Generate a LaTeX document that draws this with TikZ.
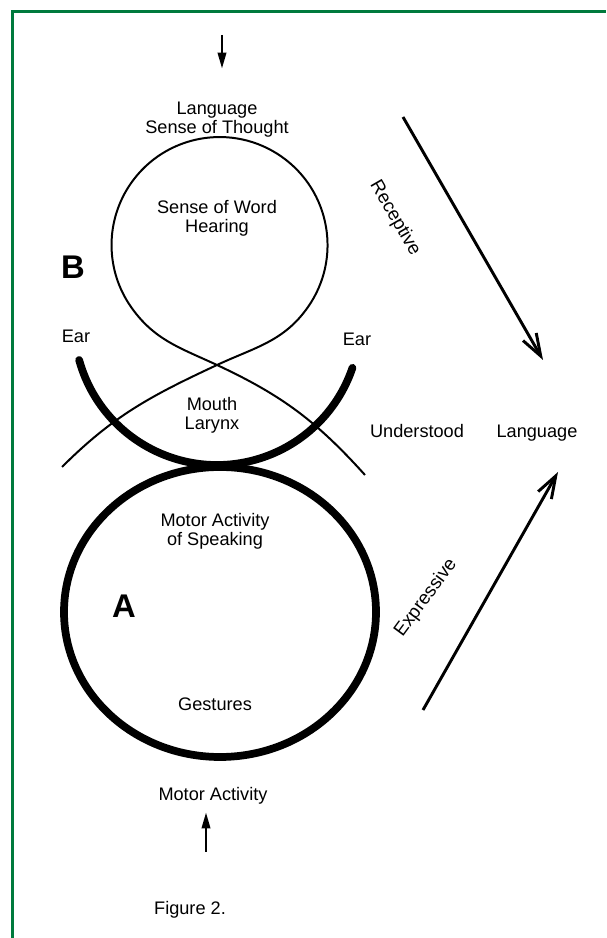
\documentclass[tikz,border=0pt]{standalone}
\usepackage{fontspec}
\setmainfont{Liberation Sans}
\usetikzlibrary{arrows.meta}
\definecolor{frameGreen}{RGB}{0,122,61}
\tikzset{
  lbl/.style={font=\fontsize{15.5}{16.3}\selectfont, align=center, inner sep=0pt},
  rotLbl/.style={font=\fontsize{16}{17}\selectfont, inner sep=0pt},
  bigLetter/.style={font=\fontsize{28}{28}\selectfont\bfseries, inner sep=0pt},
  thinLine/.style={line width=1.7pt},
  thickLine/.style={line width=6.6pt},
  flowArr/.style={line width=2.5pt, -{Straight Barb[length=19pt,width=13pt,line width=2.5pt]}},
  vertArr/.style={line width=2.5pt, -{Triangle[length=14pt,width=7pt]}}
}
\begin{document}
\begin{tikzpicture}[x=0.03cm,y=0.03cm]
\useasboundingbox (0,0) rectangle (606,938);

% frame
\draw[frameGreen, line width=1.8pt] (12.5,0) -- (12.5,926.5) -- (606,926.5);

\coordinate (topArrS) at (222,903);
\coordinate (topArrE) at (222,869);
\coordinate (botArrS) at (206,86);
\coordinate (botArrE) at (206,126);

\coordinate (recS) at (403,821);
\coordinate (recE) at (543,578);
\coordinate (expS) at (423,228);
\coordinate (expE) at (558,466);

\coordinate (loopX) at (217,573);
\coordinate (loopR) at (308,631);
\coordinate (arcL) at (62,471);
\coordinate (arcR) at (365,463);

\coordinate (earC) at (217,616);
\coordinate (motorC) at (220,326);

\draw[vertArr] (topArrS) -- (topArrE);
\draw[vertArr] (botArrS) -- (botArrE);

\draw[flowArr] (recS) -- (recE);
\draw[flowArr] (expS) -- (expE);

% thin loop: hearing circle crossing into the mouth arc
\draw[thinLine] (arcL) to[out=45,in=-155] (loopX)
  to[out=25,in=235] (loopR)
  arc[start angle=-35, end angle=215, radius=108]
  to[out=-55,in=155] (loopX)
  to[out=-25,in=132] (arcR);

% ear arc
\draw[thickLine, line cap=round] (earC) ++(195.4:143) arc[start angle=195.4, end angle=341.3, radius=143];

% motor circle
\draw[thickLine] (motorC) ellipse[x radius=156, y radius=145];

\node[lbl] (langTop) at (217,818) {Language\\Sense of Thought};
\node[lbl] (wordHear) at (217,720) {Sense of Word\\Hearing};
\node[bigLetter] (letB) at (73,671) {B};
\node[lbl] (earLeft) at (76,602) {Ear};
\node[lbl] (earRight) at (357,599) {Ear};
\node[lbl] (mouth) at (212,523) {Mouth\\Larynx};
\node[lbl] (understood) at (417,507) {Understood};
\node[lbl] (langRight) at (537,505) {Language};
\node[rotLbl, rotate=-60] (receptive) at (395,720) {Receptive};
\node[rotLbl, rotate=53.5] (expressive) at (426,340) {Expressive};
\node[lbl] (speaking) at (215,407) {Motor Activity\\of Speaking};
\node[bigLetter] (letA) at (124,332) {A};
\node[lbl] (gestures) at (215,234) {Gestures};
\node[lbl] (motorBot) at (213,142) {Motor Activity};
\node[lbl] (caption) at (190,28) {Figure 2.};
\end{tikzpicture}
\end{document}
